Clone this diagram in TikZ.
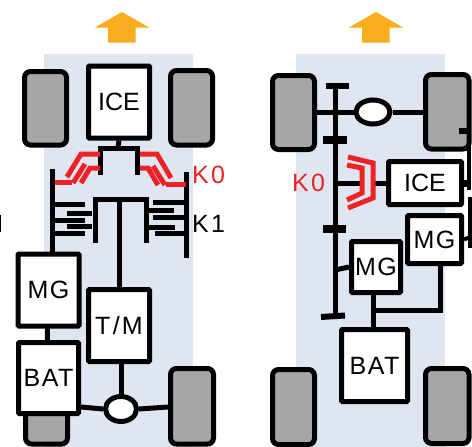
\documentclass[tikz,border=0pt]{standalone}
\usepackage{fontspec}
\usetikzlibrary{shapes.geometric}
\setmainfont{Liberation Sans}
\newfontfamily\wideA[LetterSpace=6]{Liberation Sans}
\newfontfamily\wideB[LetterSpace=9]{Liberation Sans}
\tikzset{x=1pt,y=-1pt,
 panel/.style={fill=panelblue,draw=none},
 wheel/.style={draw=black,fill=wheelgray,line width=5pt,rounded corners=6pt},
 blk/.style={draw=black,fill=white,line width=5pt,rounded corners=1pt,inner sep=0pt,font=\fontsize{25}{27}\selectfont},
 blkA/.style={blk,font=\fontsize{25}{27}\wideA},
 blkB/.style={blk,font=\fontsize{25}{27}\wideB},
 diffl/.style={draw=black,fill=white,line width=5pt,ellipse},
 sh/.style={draw=black,line width=5pt},
 thickbar/.style={draw=black,line width=8pt},
 plate/.style={draw=black,line width=5pt},
 redl/.style={draw=kored,line width=5pt,line join=miter},
 lab/.style={font=\fontsize{25}{27}\wideB,inner sep=0pt},
 arrowup/.style={fill=arroworange,draw=none}}
\definecolor{panelblue}{HTML}{DFE6F2}
\definecolor{wheelgray}{HTML}{A6A6A6}
\definecolor{kored}{HTML}{EC2227}
\definecolor{arroworange}{HTML}{F8AC1E}
\begin{document}
\begin{tikzpicture}
\useasboundingbox (0,0) rectangle (472,447);
\fill[panel] (44,54) rectangle (193,447);
\fill[panel] (296,54) rectangle (445,447);
\fill[arrowup] (122,12) -- (149,27.5) -- (135.5,27.5) -- (135.5,42.5) -- (108,42.5) -- (108,27.5) -- (95,27.5) -- cycle;
\fill[arrowup] (376,12) -- (403,27.5) -- (389.5,27.5) -- (389.5,42.5) -- (362,42.5) -- (362,27.5) -- (349,27.5) -- cycle;
\draw[black,line width=1.2pt] (0,215) -- (0,232);
% left panel
\draw[wheel] (24.5,71.5) rectangle (66.5,145);
\draw[wheel] (170.5,70.5) rectangle (212.5,145);
\draw[wheel] (25.5,370) rectangle (67.5,444);
\draw[wheel] (170.5,368.5) rectangle (213.5,444);
\coordinate (ls1) at (52,169);
\coordinate (ls2) at (52,257);
\draw[sh] (ls1) -- (ls2);
\coordinate (rs1) at (186,172);
\coordinate (rs2) at (186,258);
\draw[sh] (rs1) -- (rs2);
\node[blk,minimum width=61pt,minimum height=72pt] (ice) at (119,102) {ICE};
\draw[sh,line join=miter] (100.5,175) -- (100.5,148) -- (137.5,148) -- (137.5,175);
\coordinate (ist) at (118,148);
\draw[sh] (ice.south) -- (ist);
\draw[redl] (100,154) -- (81,154) -- (67,177);
\draw[redl] (85,164) -- (73,183);
\draw[redl] (100,168) -- (90,168) -- (81,183);
\draw[redl] (55,182) -- (72,182);
\draw[redl] (140,154) -- (157,154) -- (171,178);
\draw[redl] (153,166) -- (165,185);
\draw[redl] (140,168) -- (148,168) -- (158,185);
\draw[redl] (166,184) -- (186,184);
\draw[plate] (52,204) -- (85,204);
\draw[plate] (67,213) -- (92,213);
\draw[plate] (52,220) -- (85,220);
\draw[plate] (67,226) -- (92,226);
\draw[plate] (52,233) -- (85,233);
\draw[plate] (153,202) -- (186,202);
\draw[plate] (147,210) -- (174,210);
\draw[plate] (153,217) -- (186,217);
\draw[plate] (148,227) -- (175,227);
\draw[plate] (155,233) -- (186,233);
\draw[sh,line join=miter] (95,243) -- (95,199) -- (146,199) -- (146,243);
\node[blkA,minimum width=61pt,minimum height=72pt] (mg1) at (48.5,290) {MG};
\node[blkA,minimum width=60pt,minimum height=71pt] (bat1) at (48.5,378) {BAT};
\draw[sh] (47,325) -- (47,340);
\node[blkB,minimum width=61pt,minimum height=72pt] (tm) at (119,325.5) {T/M};
\coordinate (tmt) at (119,199);
\draw[sh] (tmt) -- (tm.north);
\node[diffl,minimum width=31pt,minimum height=25pt,inner sep=0pt] (d1) at (121,409) {};
\draw[sh] (121,364) -- (d1.north);
\draw[sh] (81,407) -- (d1.west);
\draw[sh] (d1.east) -- (168,407);
\node[lab,text=kored,anchor=west] (k0a) at (192,175) {K0};
\node[lab,anchor=west] (k1a) at (192,224) {K1};
% right panel
\draw[wheel] (272.5,75.5) rectangle (314.5,149.5);
\draw[wheel] (425.5,74.5) rectangle (469,149);
\draw[wheel] (272.5,369.5) rectangle (314.5,444.5);
\draw[wheel] (425.5,368.5) rectangle (469,443.5);
\draw[sh,line width=4pt] (469,128) -- (469,190);
\draw[sh,line width=4pt] (470,197) -- (470,248);
\draw[sh,line width=6pt] (459,131) -- (469,131);
\node[diffl,minimum width=34pt,minimum height=24pt,inner sep=0pt] (d2) at (373,112) {};
\draw[sh] (317,112) -- (d2.west);
\draw[sh] (d2.east) -- (423,112);
\draw[sh] (335,87) -- (335,317);
\draw[sh,line width=6pt] (326,86) -- (349,86);
\draw[thickbar] (323,140) -- (347,140);
\draw[thickbar] (323,229) -- (346,229);
\draw[sh,line width=6pt] (321,317) -- (345,315.5);
\node[blk,minimum width=73pt,minimum height=43pt] (ice2) at (425,183) {ICE};
\node[blkA,minimum width=54pt,minimum height=48pt] (mg2) at (434.5,239.5) {MG};
\node[blkA,minimum width=49pt,minimum height=51pt] (mg3) at (376,267) {MG};
\node[blkA,minimum width=66pt,minimum height=72pt] (bat2) at (374.5,365.5) {BAT};
\draw[sh,line width=7pt] (ice2.east) -- (469,183);
\draw[sh,line width=4pt] (mg2.east) -- (470,237);
\draw[sh] (335,183) -- (360,183);
\draw[sh] (374,183) -- (ice2.west);
\draw[redl] (348,157) -- (373,163) -- (373,198) -- (348,208);
\draw[redl] (347,165) -- (362,168) -- (362,193) -- (347,200);
\draw[sh] (335,270) -- (mg3.west);
\draw[sh] (373,295) -- (373,327);
\draw[sh,line join=miter] (373,310) -- (440,310) -- (440,266);
\node[lab,text=kored,anchor=west] (k0b) at (292,183) {K0};
\end{tikzpicture}
\end{document}
